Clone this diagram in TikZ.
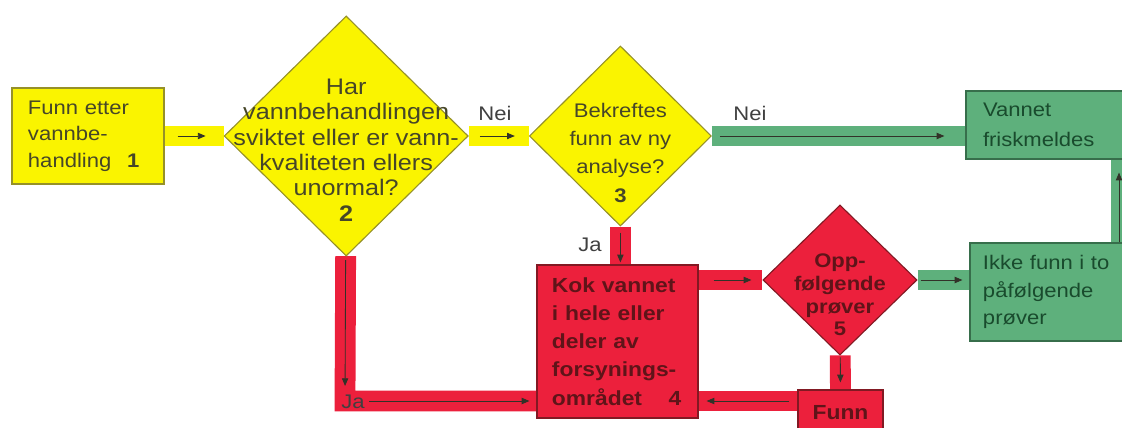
\documentclass[tikz,border=0pt]{standalone}
\usepackage{fontspec}
\setmainfont{Liberation Sans}[FakeStretch=1.12]
\usetikzlibrary{arrows.meta}
\usetikzlibrary{positioning}
\usetikzlibrary{shapes.geometric}
\usetikzlibrary{backgrounds}

\definecolor{yfill}{RGB}{250,244,0}
\definecolor{yline}{RGB}{150,145,40}
\definecolor{ytext}{RGB}{70,70,40}
\definecolor{gfill}{RGB}{94,176,124}
\definecolor{gline}{RGB}{55,110,75}
\definecolor{gtext}{RGB}{25,75,45}
\definecolor{rfill}{RGB}{236,32,60}
\definecolor{rline}{RGB}{130,25,35}
\definecolor{rtext}{RGB}{95,20,25}
\definecolor{arrowc}{RGB}{50,50,40}

\tikzset{
  box/.style={rectangle, draw, line width=0.8pt, inner ysep=0pt, align=left},
  ybox/.style={box, fill=yfill, draw=yline, text=ytext},
  gbox/.style={box, fill=gfill, draw=gline, text=gtext},
  rbox/.style={box, fill=rfill, draw=rline, text=rtext},
  dia/.style={diamond, draw, line width=0.8pt, inner sep=0pt},
  band/.style={line width=0.52cm},
  yband/.style={band, draw=yfill},
  gband/.style={band, draw=gfill},
  rband/.style={band, draw=rfill},
  flow/.style={draw=arrowc, line width=0.6pt, -{Triangle[length=5.5pt,width=4.5pt]}},
  lbl/.style={inner sep=0pt, text=black!75, font=\fontsize{14}{16}\selectfont},
}

\begin{document}
\begin{tikzpicture}[x=0.025cm, y=-0.025cm]
    \useasboundingbox (0,0) rectangle (1122,427);

    % top row
    \node[ybox, minimum width=3.8cm, minimum height=2.4cm, inner xsep=0.4cm, text width=3.0cm,
          font=\fontsize{14}{19}\selectfont] (b1) at (88,136)
          {Funn etter\\vannbe-\\handling\hspace{0.8em}\textbf{1}};
    \node[dia, fill=yfill, draw=yline, minimum width=6.1cm, minimum height=6.0cm] (d2) [right=1.475cm of b1] {};
    \node[dia, fill=yfill, draw=yline, minimum width=4.55cm, minimum height=4.5cm] (d3) [right=1.5cm of d2] {};
    \node[gbox, minimum width=4.225cm, minimum height=1.7cm, inner xsep=0.425cm, text width=3.375cm,
          font=\fontsize{14}{21}\selectfont] (vann) at (1050.5,125) {Vannet\\friskmeldes};

    % lower row
    \node[rbox, minimum width=4.025cm, minimum height=3.825cm, inner xsep=0.375cm, text width=3.275cm,
          font=\fontsize{14.5}{20}\selectfont\bfseries] (b4) at (617.5,341.5)
          {Kok vannet\\i hele eller\\deler av\\forsynings-\\området\hspace{1.3em}4};
    \node[dia, fill=rfill, draw=rline, minimum width=3.85cm, minimum height=3.75cm] (d5) at (840,280) {};
    \node[gbox, minimum width=4.125cm, minimum height=2.45cm, inner xsep=0.325cm, text width=3.475cm,
          font=\fontsize{14}{19.5}\selectfont] (ikke) at (1052.5,292)
          {Ikke funn i to\\påfølgende\\prøver};
    \node[rbox, minimum width=2.125cm, minimum height=1.15cm, inner xsep=0pt, align=center,
          font=\fontsize{14.5}{17}\selectfont\bfseries] (funn) at (840.5,413) {Funn};

    % texts in the diamonds
    \node[text=ytext, align=center, inner sep=0pt, font=\fontsize{16}{18}\selectfont] (d2t) at ([yshift=-0.35cm]d2)
          {Har\\vannbehandlingen\\sviktet eller er vann-\\kvaliteten ellers\\unormal?\\\textbf{2}};
    \node[text=ytext, align=center, inner sep=0pt, font=\fontsize{14}{20}\selectfont] (d3t) at ([yshift=-0.42cm]d3)
          {Bekreftes\\funn av ny\\analyse?\\\textbf{3}};
    \node[text=rtext, align=center, inner sep=0pt, font=\fontsize{14}{16.3}\selectfont\bfseries] (d5t) at ([yshift=-0.37cm]d5)
          {Opp-\\følgende\\prøver\\5};

    \coordinate (c24) at (345,401);
    \coordinate (rx) at (1121,0);
    \coordinate (ax) at (1119,0);

    % bands
    \begin{scope}[on background layer]
        \draw[yband] (b1) -- (d2);
        \draw[yband] (d2) -- (d3);
        \draw[gband] (d3) -- (d3 -| vann.west);
        \draw[rband] (d3) -- (d3 |- b4.north);
        \draw[rband] (d2) -- (c24) -- (c24 -| b4.west);
        \draw[rband] (b4.east |- d5) -- (d5);
        \draw[gband] (d5) -- (d5 -| ikke.west);
        \draw[rband] (d5) -- (funn);
        \draw[rband] ([yshift=0.3cm]funn.west) -- ([yshift=0.3cm]funn.west -| b4.east);
        \draw[gband] (ikke.north -| rx) -- (vann.south -| rx);
    \end{scope}

    % arrows
    \draw[flow, shorten <=0.325cm, shorten >=0.45cm] (b1) -- (d2);
    \draw[flow, shorten <=0.275cm, shorten >=0.35cm] (d2) -- (d3);
    \draw[flow, shorten <=0.2cm, shorten >=0.525cm] (d3) -- (d3 -| vann.west);
    \draw[flow, shorten <=0.15cm, shorten >=0.05cm] (d3) -- (d3 |- b4.north);
    \draw[flow, shorten <=0.1cm, shorten >=0.375cm] (d2) -- (c24);
    \draw[flow, shorten <=0.6cm, shorten >=0.175cm] (c24) -- (c24 -| b4.west);
    \draw[flow, shorten <=0.375cm, shorten >=0.275cm] (b4.east |- d5) -- (d5);
    \draw[flow, shorten <=0.075cm, shorten >=0.175cm] (d5) -- (d5 -| ikke.west);
    \draw[flow, shorten <=0.05cm, shorten >=0.175cm] (d5) -- (funn);
    \draw[flow, shorten <=0.2cm, shorten >=0.2cm] ([yshift=0.3cm]funn.west) -- ([yshift=0.3cm]funn.west -| b4.east);
    \draw[flow, shorten >=0.325cm] (ikke.north -| ax) -- (vann.south -| ax);

    % labels
    \node[lbl] (nei1) at (495,113) {Nei};
    \node[lbl] (nei2) at (750,113) {Nei};
    \node[lbl] (ja1) at (590,245) {Ja};
    \node[lbl] (ja2) at (353,402) {Ja};
\end{tikzpicture}
\end{document}
